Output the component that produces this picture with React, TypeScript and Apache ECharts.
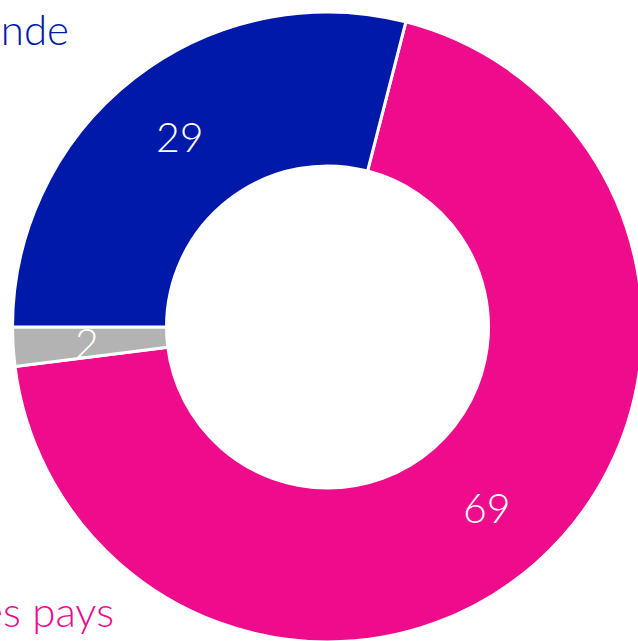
import React, { useEffect, useRef } from "react";
import * as echarts from "echarts";

const categories = ["Autres pays", "Reste", "Monde"];
const values = [69, 2, 29];
const colors = ["#EE0C8C", "#B3B3B3", "#0019A8"];

export default function App() {
  const ref = useRef<HTMLDivElement>(null);
  useEffect(() => {
    document.body.style.margin = "0";
    const chart = echarts.init(ref.current!, null, { renderer: "svg" });
    const font = "Lato, 'Open Sans', sans-serif";
    chart.setOption({
      animation: false,
      backgroundColor: "#ffffff",
      series: [
        {
          type: "pie",
          center: [327.5, 327],
          radius: [161, 315],
          startAngle: 75.6,
          clockwise: true,
          avoidLabelOverlap: false,
          itemStyle: { borderColor: "#ffffff", borderWidth: 3 },
          label: {
            show: true,
            position: "inside",
            color: "#ffffff",
            fontSize: 41,
            fontFamily: font,
            fontWeight: 300,
            formatter: (p: any) => String(p.value),
          },
          labelLine: { show: false },
          data: categories.map((c, i) => ({
            name: c,
            value: values[i],
            itemStyle: { color: colors[i] },
          })),
        },
      ],
      graphic: [
        {
          type: "text",
          x: 69,
          y: 50,
          style: {
            text: categories[2],
            fill: colors[2],
            fontSize: 42,
            fontFamily: font,
            fontWeight: 300,
            textAlign: "right",
            textVerticalAlign: "bottom",
          },
        },
        {
          type: "text",
          x: 114,
          y: 632,
          style: {
            text: categories[0],
            fill: colors[0],
            fontSize: 42,
            fontFamily: font,
            fontWeight: 300,
            textAlign: "right",
            textVerticalAlign: "bottom",
          },
        },
      ],
    });
    return () => chart.dispose();
  }, []);
  return (
    <div
      ref={ref}
      style={{ position: "fixed", left: 0, top: 0, width: 638, height: 641 }}
    />
  );
}
